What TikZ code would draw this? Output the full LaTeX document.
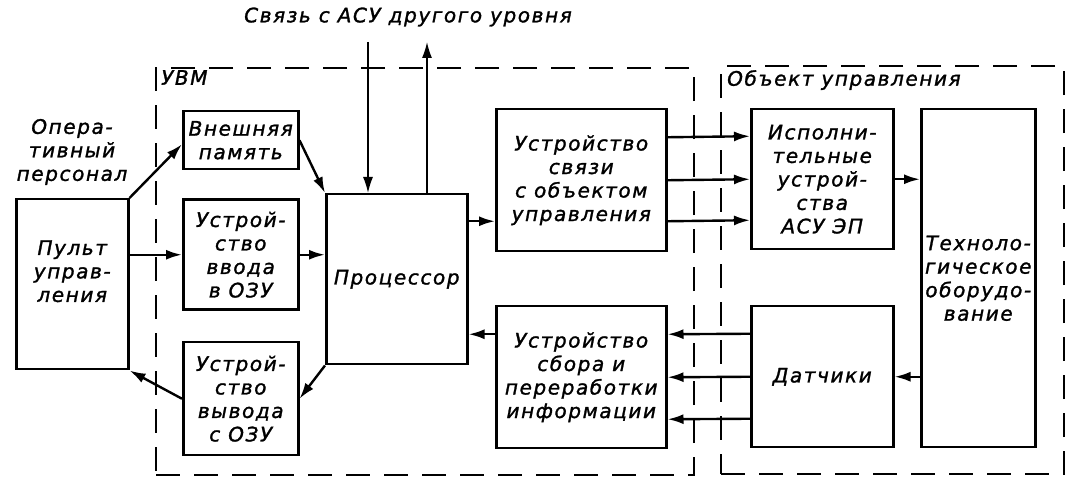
\documentclass[tikz,border=0pt]{standalone}
\usepackage{fontspec}
\setmainfont{DejaVu Sans}
\newfontfamily\gostfont{DejaVu Sans}[LetterSpace=8, FakeBold=1.4]
\usetikzlibrary{arrows.meta, positioning}

\begin{document}
\begin{tikzpicture}[
  x=1pt, y=1pt,
  node distance=28pt and 0pt,
  txt/.style={align=center, inner sep=0pt,
              font=\gostfont\itshape\fontsize{20}{23.5}\selectfont},
  blk/.style={txt, draw, line width=2.5pt, anchor=north west},
  zone/.style={draw, dash pattern=on 24pt off 14pt, line width=2.2pt,
               anchor=north west, inner sep=0pt},
  fl/.style={-{Latex[length=16pt,width=10pt]}, line width=2.4pt},
  tl/.style={-{Latex[length=16pt,width=10pt]}, line width=1.4pt}
]
\useasboundingbox (0,0) rectangle (1078,500);

\node[zone, minimum width=538, minimum height=407] (uvm) at (155,433) {};
\node[zone, minimum width=343, minimum height=408] (obj) at (720,435) {};
\node[txt, anchor=north west] (uvmname) at (161,430) {УВМ};
\node[txt, anchor=north west] (objname) at (727,430) {Объект управления};
\node[txt] (link) at (408,483) {Связь с АСУ другого уровня};
\node[txt] (staff) at (72,348) {Опера-\\тивный\\персонал};

\node[blk, minimum width=112, minimum height=170] (pult) at (15,302) {};
\node[txt] (pultname) at ([yshift=13pt]pult.center) {Пульт\\управ-\\ления};
\node[blk, minimum width=115, minimum height=58] (mem) at (182,390) {Внешняя\\память};
\node[blk, minimum width=115, minimum height=110, below=of mem.south west, anchor=north west] (vvod) {Устрой-\\ство\\ввода\\в ОЗУ};
\node[blk, minimum width=115, minimum height=113, below=30pt of vvod.south west, anchor=north west] (vyvod) {Устрой-\\ство\\вывода\\с ОЗУ};
\node[blk, minimum width=141, minimum height=170] (cpu) at (325,307) {Процессор};
\node[blk, minimum width=170, minimum height=142] (svz) at (495,392) {Устройство\\связи\\с объектом\\управления};
\node[blk, minimum width=170, minimum height=142] (sbor) at (495,195) {Устройство\\сбора и\\переработки\\информации};
\node[blk, minimum width=142, minimum height=140] (isp) at (750,392) {Исполни-\\тельные\\устрой-\\ства\\АСУ ЭП};
\node[blk, minimum width=114, minimum height=338] (tech) at (920,392) {Техноло-\\гическое\\оборудо-\\вание};
\node[blk, minimum width=142, minimum height=141] (dat) at (750,195) {Датчики};

\coordinate (linkin) at (368,458);
\coordinate (linkout) at (427,458);
\coordinate (cpuin) at ([yshift=-41pt]svz.west);
\coordinate (cpuback) at ([yshift=43pt]sbor.west);

\draw[fl] (pult.north east) -- ([yshift=-4pt]mem.west);
\draw[fl] (vvod.west -| pult.east) -- (vvod.west);
\draw[fl] (vvod.east) -- (vvod.east -| cpu.west);
\draw[fl] (mem.east) -- (cpu.north west);
\draw[tl] (linkin) -- (linkin |- cpu.north);
\draw[tl] (linkout |- cpu.north) -- (linkout);
\draw[fl] (cpuin -| cpu.east) -- (cpuin);
\foreach \dy in {43,0,-41}
  \draw[fl] ([yshift=\dy pt]svz.east) -- ([yshift=\dy pt]isp.west);
\draw[fl] (isp.east) -- (isp.east -| tech.west);
\draw[fl] (dat.east -| tech.west) -- (dat.east);
\foreach \dy in {43,0,-42}
  \draw[fl] ([yshift=\dy pt]dat.west) -- ([yshift=\dy pt]sbor.east);
\draw[fl] (cpuback) -- (cpuback -| cpu.east);
\draw[fl] (cpu.south west) -- (vyvod.east);
\draw[fl] (vyvod.west) -- (pult.south east);
\end{tikzpicture}
\end{document}
